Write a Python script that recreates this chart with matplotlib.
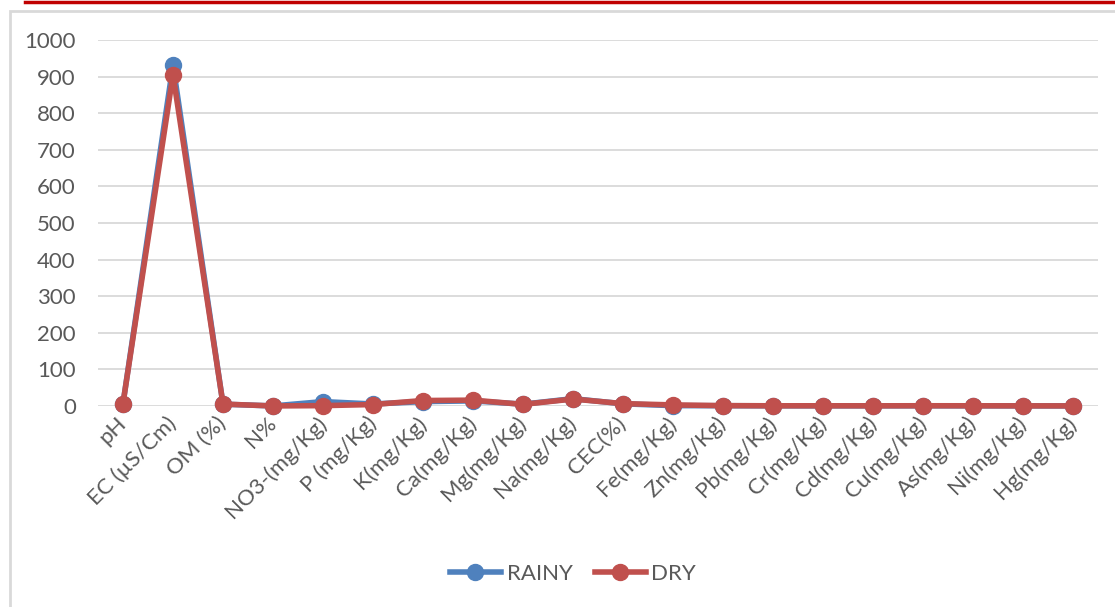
import matplotlib.pyplot as plt
from matplotlib.lines import Line2D
from matplotlib.patches import Rectangle

# Soil parameters, rainy vs dry season
params = ["pH", "EC (µS/Cm)", "OM (%)", "N%", "NO3-(mg/Kg)", "P (mg/Kg)",
          "K(mg/Kg)", "Ca(mg/Kg)", "Mg(mg/Kg)", "Na(mg/Kg)", "CEC(%)",
          "Fe(mg/Kg)", "Zn(mg/Kg)", "Pb(mg/Kg)", "Cr(mg/Kg)", "Cd(mg/Kg)",
          "Cu(mg/Kg)", "As(mg/Kg)", "Ni(mg/Kg)", "Hg(mg/Kg)"]
rainy = [6.5, 932, 5.0, 0.2, 12, 5.5, 12, 14, 5.0, 20, 6.0,
         1.0, 0.8, 0.5, 0.5, 0.5, 0.6, 0.5, 0.4, 0.3]
dry = [6.8, 905, 5.2, 0.2, 1.0, 4.0, 15, 16, 4.5, 19, 6.5,
       3.0, 1.0, 0.6, 0.6, 0.5, 0.7, 0.6, 0.4, 0.3]
yticks = [0, 100, 200, 300, 400, 500, 600, 700, 800, 900, 1000]

blue = "#4F81BD"
red = "#C0504D"
grey_txt = "#595959"
plt.rcParams["font.family"] = ["Lato", "DejaVu Sans"]

W, H = 1115, 607
fig = plt.figure(figsize=(W / 100, H / 100), dpi=100)

# outer frame and red top rule
fig.patches.append(Rectangle((10 / W, -0.1), 1.2, (H - 11) / H + 0.1,
                             transform=fig.transFigure, fill=False,
                             edgecolor="#D9D9D9", linewidth=2))
fig.add_artist(Line2D([25 / W, 1], [1 - 1.5 / H, 1 - 1.5 / H],
                      transform=fig.transFigure, color="#C00000", linewidth=2.5))

ax = fig.add_axes([98 / W, (H - 406) / H, 1000 / W, 366 / H])
x = list(range(len(params)))
ax.plot(x, rainy, color=blue, linewidth=4, marker="o", markersize=11.5,
        clip_on=False, zorder=3, label="RAINY")
ax.plot(x, dry, color=red, linewidth=4, marker="o", markersize=11.5,
        clip_on=False, zorder=4, label="DRY")

ax.set_xlim(-0.5, len(params) - 0.5)
ax.set_ylim(0, 1000)
ax.set_yticks(yticks)
ax.yaxis.grid(True, color="#D9D9D9", linewidth=1.3)
ax.set_axisbelow(True)
for s in ax.spines.values():
    s.set_visible(False)
ax.tick_params(axis="y", length=0, pad=16, labelsize=16, labelcolor=grey_txt)
ax.tick_params(axis="x", length=0, pad=10, labelsize=16, labelcolor=grey_txt)
ax.set_xticks(x)
ax.set_xticklabels(params, rotation=45, ha="right", va="center",
                   rotation_mode="anchor")

leg = fig.legend(loc="center", bbox_to_anchor=(573 / W, 1 - 574 / H), ncol=2,
                 frameon=False, fontsize=16, handlelength=2.3,
                 columnspacing=1.0, handletextpad=0.25)
for t in leg.get_texts():
    t.set_color(grey_txt)

fig.savefig("out.png", dpi=100)
